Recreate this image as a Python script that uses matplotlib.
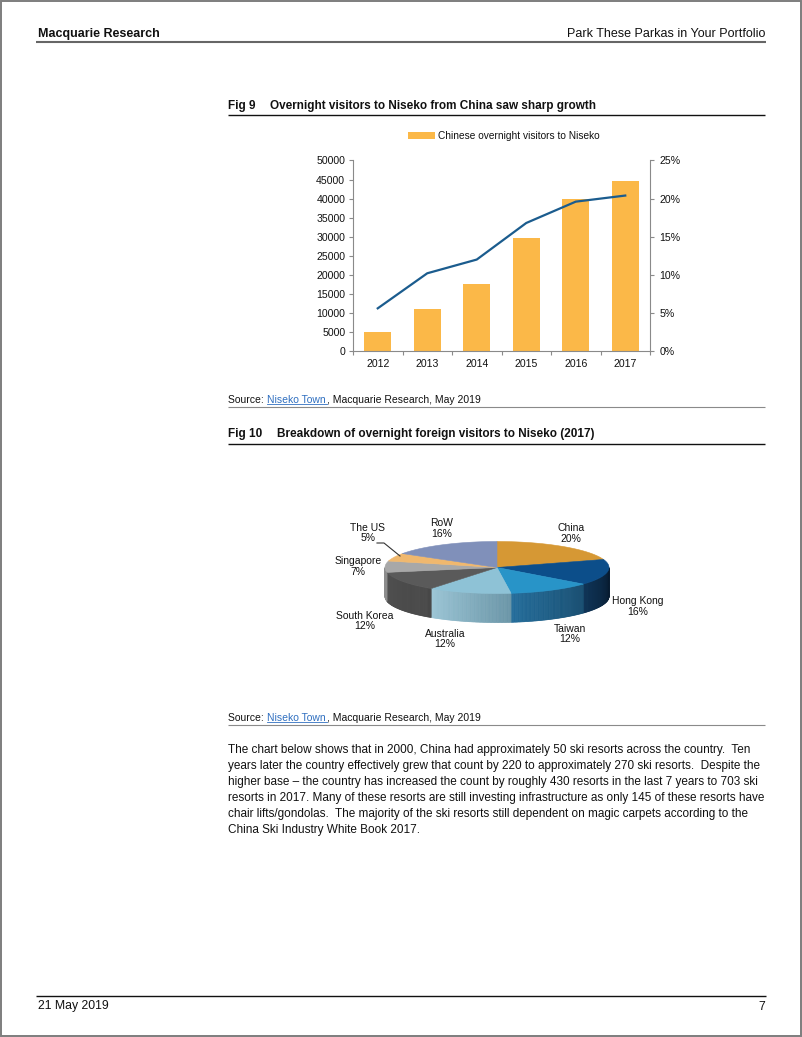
import matplotlib
matplotlib.use("Agg")
import matplotlib.pyplot as plt
import numpy as np
from matplotlib.patches import Rectangle, Polygon

plt.rcParams['font.family'] = ['Liberation Sans', 'DejaVu Sans']

# ---------------- data ----------------
years = ['2012', '2013', '2014', '2015', '2016', '2017']
chinese_visitors = [4900, 11000, 17700, 29700, 39900, 44600]
china_share_pct = [5.6, 10.2, 12.0, 16.8, 19.6, 20.4]
left_ticks = [0, 5000, 10000, 15000, 20000, 25000, 30000, 35000, 40000, 45000, 50000]
right_ticks = [0, 5, 10, 15, 20, 25]
series_name = 'Chinese overnight visitors to Niseko'

pie_labels = ['China', 'Hong Kong', 'Taiwan', 'Australia', 'South Korea',
              'Singapore', 'The US', 'RoW']
pie_shares = [20, 16, 12, 12, 12, 7, 5, 16]

paragraph = [
    "The chart below shows that in 2000, China had approximately 50 ski resorts across the country.  Ten",
    "years later the country effectively grew that count by 220 to approximately 270 ski resorts.  Despite the",
    "higher base \u2013 the country has increased the count by roughly 430 resorts in the last 7 years to 703 ski",
    "resorts in 2017. Many of these resorts are still investing infrastructure as only 145 of these resorts have",
    "chair lifts/gondolas.  The majority of the ski resorts still dependent on magic carpets according to the",
    "China Ski Industry White Book 2017.",
]

# ---------------- styles ----------------
BAR = '#FBB848'
LINE = '#1B5C8E'
GRAY = '#8a8a8a'
LINK = '#2F6FC0'
top_colors = ['#D69834', '#0C4E8A', '#2894C8', '#8EC2D6', '#5A5A5A',
              '#A8A8A8', '#F0B86E', '#8090BA']
side_left = ['#A8741F', '#0F3457', '#246D9B', '#9CC6D6', '#505050',
             '#8C8C8C', '#C8904A', '#5F6F98']
side_right = ['#A8741F', '#071B30', '#174D70', '#6B96A8', '#474747',
              '#8C8C8C', '#C8904A', '#5F6F98']

W, H = 802, 1037
fig = plt.figure(figsize=(W / 100, H / 100), dpi=100)
page = fig.add_axes([0, 0, 1, 1])
page.set_xlim(0, W)
page.set_ylim(H, 0)
page.axis('off')

# page border
page.add_patch(Rectangle((0.8, 0.8), W - 1.6, H - 1.6, fill=False,
                         ec='#7d7d7d', lw=1.4))

# header
page.text(38, 36.6, 'Macquarie Research', fontsize=9, fontweight='bold',
          ha='left', va='baseline', color='#111111')
page.text(765, 36.6, 'Park These Parkas in Your Portfolio', fontsize=9,
          ha='right', va='baseline', color='#111111')
page.plot([36, 766], [41.7, 41.7], color='#666666', lw=1.5,
          solid_capstyle='butt')

# figure 9 title
page.text(228, 108.5, 'Fig 9', fontsize=8.5, fontweight='bold',
          ha='left', va='baseline', color='#111111')
page.text(270, 108.5, 'Overnight visitors to Niseko from China saw sharp growth',
          fontsize=8.5, fontweight='bold', ha='left', va='baseline', color='#111111')
page.plot([228, 765], [115.3, 115.3], color='#111111', lw=1.0,
          solid_capstyle='butt')

# legend
page.add_patch(Rectangle((408, 132), 27, 6.5, color=BAR, lw=0))
page.text(438, 138.6, series_name, fontsize=7.3, ha='left', va='baseline',
          color='#111111')


def source_line(yb, yl):
    page.text(228, yb, 'Source: ', fontsize=7.5, ha='left', va='baseline',
              color='#111111')
    page.text(267, yb, 'Niseko Town', fontsize=7.5, ha='left', va='baseline',
              color=LINK)
    page.plot([267, 327], [yb + 1.6, yb + 1.6], color=LINK, lw=0.6)
    page.text(327.3, yb, ', Macquarie Research, May 2019', fontsize=7.5,
              ha='left', va='baseline', color='#111111')
    page.plot([228, 765], [yl, yl], color='#8a8a8a', lw=0.8,
              solid_capstyle='butt')


source_line(402.8, 407)

# figure 10 title
page.text(228, 437.3, 'Fig 10', fontsize=8.5, fontweight='bold',
          ha='left', va='baseline', color='#111111')
page.text(277, 437.3, 'Breakdown of overnight foreign visitors to Niseko (2017)',
          fontsize=8.5, fontweight='bold', ha='left', va='baseline', color='#111111')
page.plot([228, 765], [443.5, 443.5], color='#111111', lw=1.0,
          solid_capstyle='butt')

source_line(720.8, 725)

# paragraph
for i, line in enumerate(paragraph):
    page.text(228, 753.5 + 16.0 * i, line, fontsize=8.47, ha='left',
              va='baseline', color='#111111')

# footer
page.plot([36, 766], [996, 996], color='#111111', lw=1.0,
          solid_capstyle='butt')
page.text(38, 1009.5, '21 May 2019', fontsize=8.8, ha='left', va='baseline',
          color='#111111')
page.text(765, 1009.5, '7', fontsize=8.8, ha='right', va='baseline',
          color='#111111')

# ---------------- bar + line chart ----------------
ax = fig.add_axes([353 / W, 1 - 351 / H, 297 / W, 190.5 / H])
ax.set_facecolor('none')
x = np.arange(len(years))
ax.bar(x, chinese_visitors, width=0.55, color=BAR, zorder=2)
ax.set_xlim(-0.5, len(years) - 0.5)
ax.set_ylim(0, 50000)
ax.set_yticks(left_ticks)
ax.set_yticklabels([str(v) for v in left_ticks])
ax.set_xticks(x)
ax.set_xticklabels(years)
ax.set_xticks(np.arange(-0.5, len(years)), minor=True)
ax.tick_params(axis='x', which='major', length=0, pad=5.5, labelsize=7.6,
               labelcolor='#111111')
ax.tick_params(axis='x', which='minor', length=3, width=0.8, color=GRAY,
               direction='out')
ax.tick_params(axis='y', length=3, width=0.8, color=GRAY, pad=2.6,
               labelsize=7.6, labelcolor='#111111')
for s in ['top', 'right']:
    ax.spines[s].set_visible(False)
for s in ['left', 'bottom']:
    ax.spines[s].set_color(GRAY)
    ax.spines[s].set_linewidth(0.8)

ax2 = ax.twinx()
ax2.set_facecolor('none')
ax2.plot(x, china_share_pct, color=LINE, lw=1.6, zorder=3)
ax2.set_ylim(0, 25)
ax2.set_yticks(right_ticks)
ax2.set_yticklabels([f'{v}%' for v in right_ticks])
ax2.tick_params(axis='y', length=3, width=0.8, color=GRAY, pad=3.6,
                labelsize=7.6, labelcolor='#111111')
for s in ['top', 'left', 'bottom']:
    ax2.spines[s].set_visible(False)
ax2.spines['right'].set_color(GRAY)
ax2.spines['right'].set_linewidth(0.8)

# ---------------- 3D pie ----------------
cx, cy, ra, rb, depth = 497, 567.5, 112, 26, 29


def pt(theta, dz=0.0):
    t = np.radians(theta)
    return cx + ra * np.cos(t), cy - rb * np.sin(t) + dz


def mix(c1, c2, t):
    a = np.array(matplotlib.colors.to_rgb(c1))
    b = np.array(matplotlib.colors.to_rgb(c2))
    return tuple(a + (b - a) * t)


total = float(sum(pie_shares))
bounds = [90.0]
for s in pie_shares:
    bounds.append(bounds[-1] - 360.0 * s / total)

# side walls (front half only)
for i in range(len(pie_shares)):
    hi, lo = bounds[i], bounds[i + 1]
    vlo, vhi = max(lo, -180.0), min(hi, 0.0)
    if vlo >= vhi:
        continue
    n = max(2, int((vhi - vlo) / 0.7))
    th = np.linspace(vlo, vhi, n + 1)
    for k in range(n):
        t0, t1 = th[k], th[k + 1]
        frac = ((t0 + t1) / 2 - vlo) / (vhi - vlo)
        col = mix(side_left[i], side_right[i], frac)
        x0, y0 = pt(t0)
        x1, y1 = pt(t1)
        page.add_patch(Polygon([(x0, y0), (x1, y1), (x1, y1 + depth),
                                (x0, y0 + depth)], closed=True, fc=col,
                               ec=col, lw=0.5))

# top faces
for i in range(len(pie_shares)):
    hi, lo = bounds[i], bounds[i + 1]
    th = np.linspace(hi, lo, 80)
    xs, ys = pt(th)
    verts = [(cx, cy)] + list(zip(xs, ys))
    page.add_patch(Polygon(verts, closed=True, fc=top_colors[i],
                           ec=top_colors[i], lw=0.4))

# labels
label_pos = {
    'China': (571, 533.5),
    'Hong Kong': (638, 606.5),
    'Taiwan': (570, 634),
    'Australia': (445, 639),
    'South Korea': (365, 621),
    'Singapore': (358, 566.5),
    'The US': (368, 533),
    'RoW': (441.5, 528.5),
}
for name, share in zip(pie_labels, pie_shares):
    lx, ly = label_pos[name]
    page.text(lx, ly, f'{name}\n{share}%', fontsize=7.5, ha='center',
              va='center', linespacing=1.1, color='#111111')
page.plot([377, 384, 400], [543, 543, 556], color='#333333', lw=0.8)

fig.savefig('out.png', dpi=100)
